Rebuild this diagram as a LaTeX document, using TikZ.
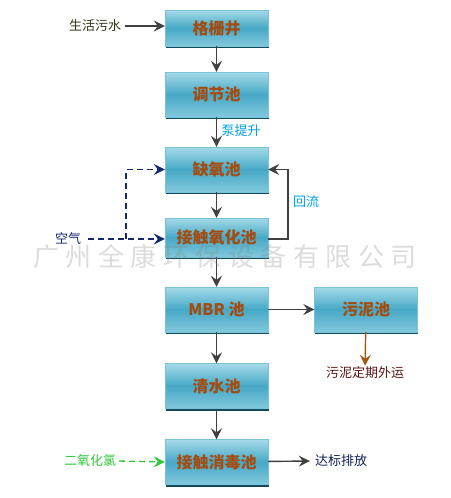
\documentclass[tikz,border=0pt]{standalone}
\usepackage{fontspec}
\setmainfont{Noto Sans CJK SC}
\newfontfamily\wmfont[LetterSpace=25]{Noto Sans CJK SC}
\usetikzlibrary{arrows.meta,shadows}

\definecolor{boxtop}{RGB}{165,218,232}
\definecolor{boxmid}{RGB}{70,168,198}
\definecolor{boxbot}{RGB}{130,200,220}
\definecolor{boxedge}{RGB}{120,195,215}
\definecolor{boxshadow}{RGB}{20,75,90}
\definecolor{boxtext}{RGB}{165,75,15}
\definecolor{linegray}{RGB}{64,64,64}
\definecolor{pumpblue}{RGB}{0,160,225}
\definecolor{airblue}{RGB}{20,40,110}
\definecolor{clgreen}{RGB}{50,200,60}
\definecolor{sludge}{RGB}{160,90,20}

\begin{document}
\begin{tikzpicture}[x=1pt,y=-1pt]
   \tikzstyle{tank}=[draw=boxedge, top color=boxtop, bottom color=boxbot, middle color=boxmid,
      minimum width=103pt, minimum height=45pt, inner sep=0pt,
      font=\fontsize{16}{16}\selectfont\bfseries, text=boxtext,
      drop shadow={shadow xshift=0.5pt, shadow yshift=-2pt, fill=boxshadow, opacity=1}]
   \tikzstyle{flow}=[draw=linegray, line width=1.4pt, -{Stealth[length=11pt,width=11pt,inset=4pt]}]
   \tikzstyle{note}=[font=\fontsize{13}{13}\selectfont, inner sep=1pt]

\useasboundingbox (0,0) rectangle (450,498);

% tanks
\node[tank, minimum height=36pt] (grille) at (216.5,28) {格栅井};
\node[tank] (adjust) at (216.5,94.5) {调节池};
\node[tank] (anoxic) at (216.5,169.5) {缺氧池};
\node[tank, minimum height=39pt] (contact) at (216.5,237.5) {接触氧化池};
\node[tank] (mbr) at (216.5,309.5) {MBR 池};
\node[tank] (sludgetank) at (366,309.5) {污泥池};
\node[tank] (clear) at (216.5,386) {清水池};
\node[tank] (disinfect) at (216.5,462) {接触消毒池};

% labels
\node[note, text={rgb,255:red,50;green,50;blue,20}] (sewage) at (95,26) {生活污水};
\node[note, text=pumpblue] (pump) at (241,131) {泵提升};
\node[note, text=pumpblue] (reflux) at (306,202) {回流};
\node[note, text=airblue] (air) at (68,239) {空气};
\node[note, text=clgreen] (chlorine) at (90,461) {二氧化氯};
\node[note, text=airblue!80!black] (discharge) at (341,461) {达标排放};
\node[note, text={rgb,255:red,90;green,20;blue,20}] (haul) at (365,373) {污泥定期外运};

% main flow
\draw[flow] ([xshift=3pt]sewage.east) -- (sewage.east -| grille.west);
\draw[flow] (grille) -- (adjust);
\draw[flow] (adjust) -- (anoxic);
\draw[flow] (anoxic) -- (contact);
\draw[flow] (contact) -- (mbr);
\draw[flow] (mbr) -- (sludgetank);
\draw[flow] (mbr) -- (clear);
\draw[flow] (clear) -- (disinfect);
\draw[flow] (disinfect) -- ([xshift=-4pt]discharge.west);
\draw[flow, draw=sludge] (sludgetank) -- (haul);

% reflux
\coordinate (rback) at (288,239);
\draw[flow] (contact.east |- rback) -- (rback) |- (anoxic.east);

% air supply
\coordinate (split) at (126,239);
\draw[flow, draw=airblue, dash pattern=on 6pt off 4pt] ([xshift=6pt]air.east |- split) -- (contact.west |- split);
\draw[flow, draw=airblue, dash pattern=on 6pt off 4pt] (split) |- (anoxic.west);

% chlorine dioxide
\draw[flow, draw=clgreen, dash pattern=on 6pt off 4pt] ([xshift=2pt]chlorine.east) -- (disinfect.west);

% watermark
\node[text=gray, opacity=0.28, font=\wmfont\fontsize{26}{26}\selectfont] (mark) at (225,257) {广州全康环保设备有限公司};

\end{tikzpicture}
\end{document}
